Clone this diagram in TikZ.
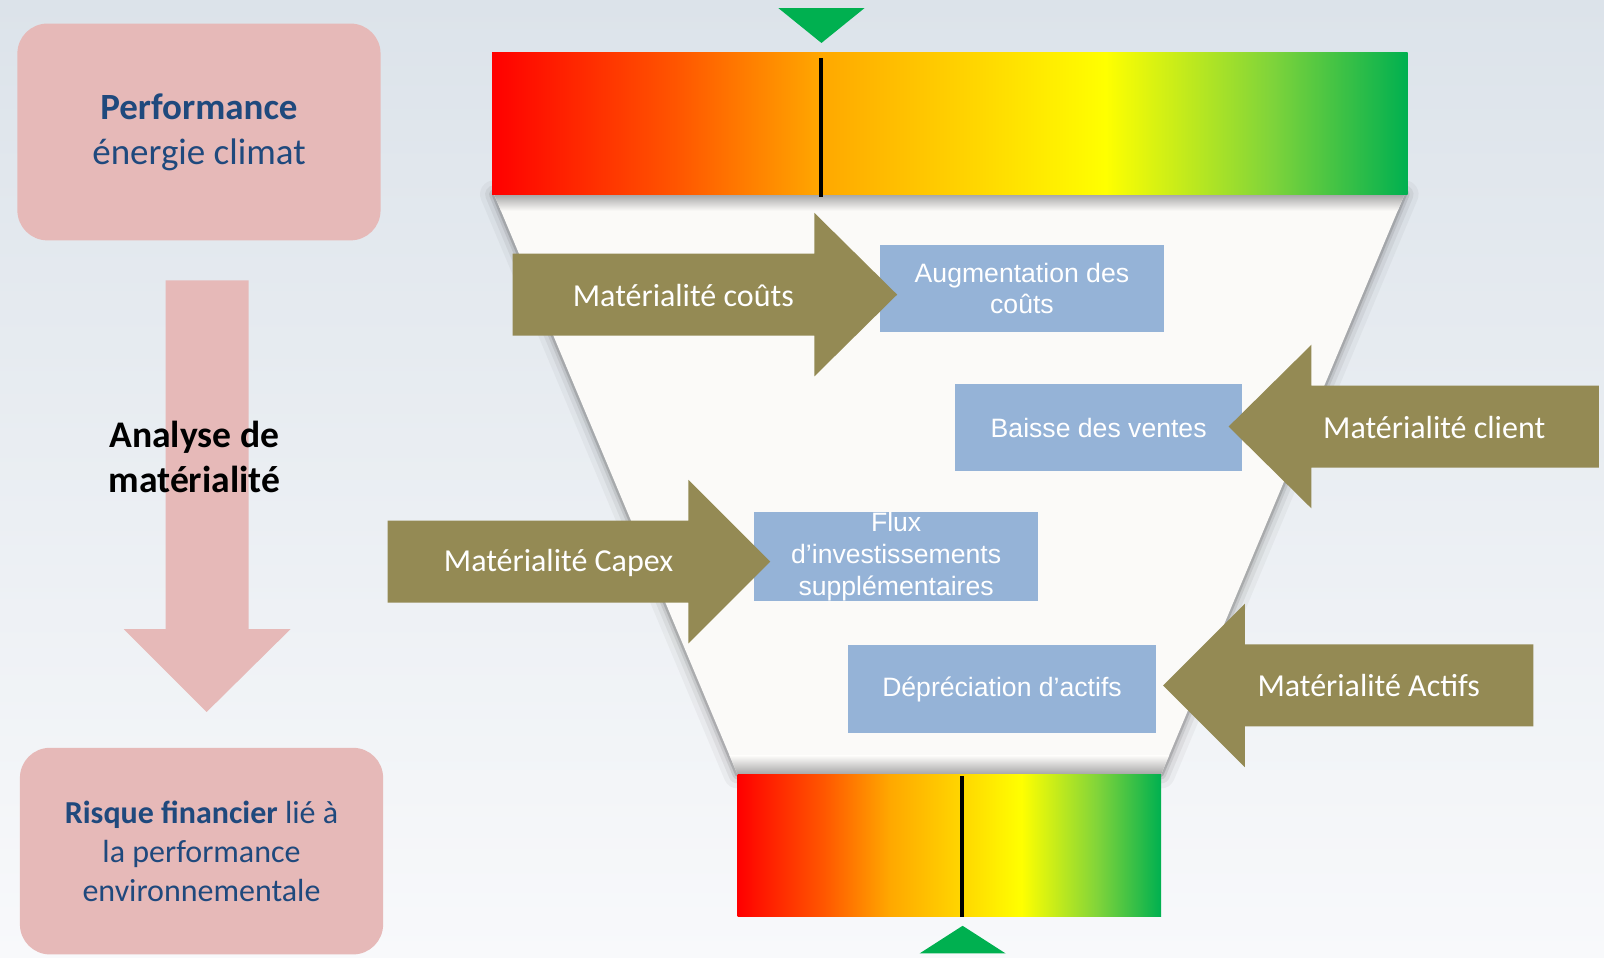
\documentclass[tikz,border=0pt]{standalone}
\usepackage{fontspec}
\setmainfont{Carlito}
\newfontfamily\arialfont{Liberation Sans}
\usetikzlibrary{positioning}
\definecolor{bgtop}{HTML}{DCE3EA}
\definecolor{bgbottom}{HTML}{F8F9FB}
\definecolor{rosefill}{HTML}{E6B9B8}
\definecolor{darkblue}{HTML}{1F497D}
\definecolor{olive}{HTML}{948A54}
\definecolor{lightblue}{HTML}{95B3D7}
\definecolor{mgreen}{HTML}{00B050}
\definecolor{funnelfill}{HTML}{FBFAF8}
\definecolor{mred}{HTML}{FF0000}
\definecolor{morange}{HTML}{FF5500}
\definecolor{mamber}{HTML}{FFA800}
\definecolor{mgold}{HTML}{FFD400}
\definecolor{myellow}{HTML}{FFFF00}
\definecolor{mlime}{HTML}{80D43A}
\pgfdeclarehorizontalshading{meter}{100bp}{color(0bp)=(mred); color(25bp)=(mred);
  color(35bp)=(morange); color(43bp)=(mamber); color(51bp)=(mgold);
  color(58.5bp)=(myellow); color(67.5bp)=(mlime); color(75bp)=(mgreen);
  color(100bp)=(mgreen)}

\begin{document}
\begin{tikzpicture}[
    x=0.5115pt, y=-0.5115pt,
    every node/.style={inner sep=0pt},
    pinkbox/.style={rectangle, rounded corners=15pt, fill=rosefill, minimum width=181.6pt, minimum height=108.4pt, align=center, text=darkblue, font=\fontsize{18.5}{22.5}\selectfont},
    bluebox/.style={rectangle, fill=lightblue, text=white, align=center, minimum height=43.8pt, font=\arialfont\fontsize{13.3}{15.9}\selectfont},
    matlabel/.style={text=white, font=\fontsize{16}{18}\selectfont},
    meterbar/.style={shading=meter},
    needle/.style={line width=2pt, black},
    pointer/.style={fill=mgreen}
]

% Background
\shade[top color=bgtop, bottom color=bgbottom] (0,0) rectangle (1568,936);
\useasboundingbox (0,0) rectangle (1568,936);

% Left column
\node[pinkbox] (perf) at (194.5,129) {\textbf{Performance}\\énergie climat};
\fill[rosefill] (162,274) -- (243,274) -- (243,615) -- (284,615) -- (202,696) -- (121,615) -- (162,615) -- cycle;
\node[align=center, font=\bfseries\fontsize{18.8}{22.5}\selectfont] (analyse) at (190,447) {Analyse de\\matérialité};
\node[pinkbox, minimum height=103.3pt, font=\fontsize{16}{19.4}\selectfont] (risque) at (197,832) {\textbf{Risque financier} lié à\\la performance\\environnementale};

% Funnel
\coordinate (ftl) at (483,190);
\coordinate (ftr) at (1373,190);
\coordinate (fbr) at (1135,757);
\coordinate (fbl) at (721,757);
\foreach \w/\o in {14/0.06, 9/0.09, 5/0.14, 2.5/0.25}
  \draw[gray!70!black, line width=\w pt, opacity=\o, line join=round] (ftl) -- (ftr) -- (fbr) -- (fbl) -- cycle;
\fill[funnelfill] (ftl) -- (ftr) -- (fbr) -- (fbl) -- cycle;
\begin{scope}
  \clip (ftl) -- (ftr) -- (fbr) -- (fbl) -- cycle;
  \shade[top color=gray!70, bottom color=funnelfill] (470,190) rectangle (1390,206);
  \shade[top color=funnelfill, bottom color=gray!70] (470,739) rectangle (1390,757);
\end{scope}

% Meters
\shade[meterbar] (481,51) rectangle (1376,190);
\draw[needle] (803,57) -- (803,193);
\fill[pointer] (761,8) -- (845,8) -- (803,42) -- cycle;
\shade[meterbar] (721,757) rectangle (1135,896);
\draw[needle] (940,759) -- (940,896);
\fill[pointer] (899,932) -- (983,932) -- (941,905) -- cycle;

% Impacts
\node[bluebox, minimum width=142.2pt] (couts) at (999,282) {Augmentation des\\coûts};
\node[bluebox, minimum width=143.2pt] (ventes) at (1074,418) {Baisse des ventes};
\node[bluebox, minimum width=142.2pt] (capex) at (876,544) {Flux\\d’investissements\\supplémentaires};
\node[bluebox, minimum width=154pt] (actifs) at (979.5,673.5) {Dépréciation d’actifs};

% Materiality arrows
\fill[olive] (501,248) -- (796,248) -- (796,208) -- (877,288) -- (796,368) -- (796,328) -- (501,328) -- cycle;
\node[matlabel] (matcouts) at (668,289) {Matérialité coûts};
\fill[olive] (1563,377) -- (1282,377) -- (1282,337) -- (1201,417) -- (1282,497) -- (1282,457) -- (1563,457) -- cycle;
\node[matlabel] (matclient) at (1402,418) {Matérialité client};
\fill[olive] (379,509) -- (673,509) -- (673,469) -- (753,549) -- (673,629) -- (673,589) -- (379,589) -- cycle;
\node[matlabel] (matcapex) at (546,550) {Matérialité Capex};
\fill[olive] (1499,630) -- (1217,630) -- (1217,590) -- (1137,670) -- (1217,750) -- (1217,710) -- (1499,710) -- cycle;
\node[matlabel] (matactifs) at (1338,670) {Matérialité Actifs};

\end{tikzpicture}
\end{document}
